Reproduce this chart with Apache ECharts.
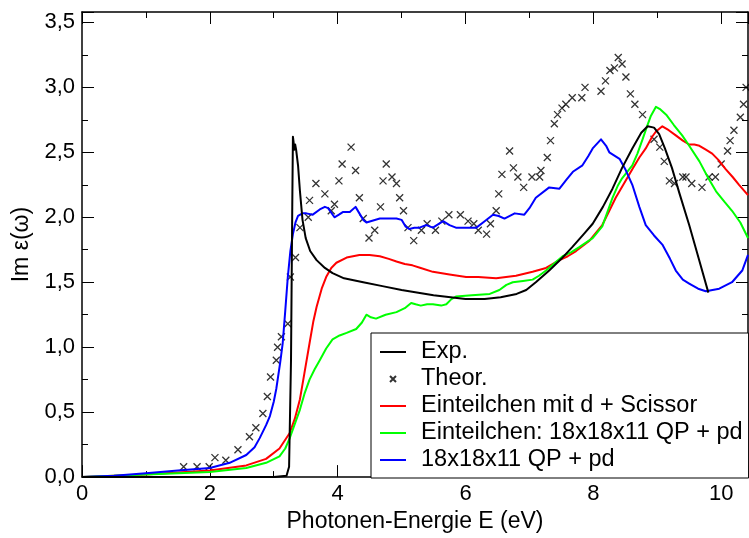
<!DOCTYPE html>
<html>
<head>
<meta charset="utf-8">
<script src="https://cdn.jsdelivr.net/npm/echarts@6/dist/echarts.min.js"></script>
<style>
html, body { margin: 0; padding: 0; background: #fff; }
#chart { width: 749px; height: 538px; }
</style>
</head>
<body>
<div id="chart"></div>
<script>
// Legendennamen
var seriesNames = ['Exp.', 'Theor.', 'Einteilchen mit d + Scissor', 'Einteilchen: 18x18x11 QP + pd', '18x18x11 QP + pd'];

// Exp. (schwarz)
var expData = [[0,0],[1,0],[2,0],[3,0],[3.2,0.01],[3.24,0.08],[3.27,0.9],[3.29,2.1],[3.30,2.62],[3.31,2.58],[3.32,2.52],
    [3.335,2.56],[3.35,2.52],[3.38,2.4],[3.41,2.2],[3.45,1.98],[3.50,1.84],[3.57,1.74],[3.67,1.67],[3.8,1.61],[3.92,1.57],
    [4.1,1.53],[4.4,1.5],[4.7,1.47],[5.0,1.44],[5.5,1.40],[6.0,1.37],[6.3,1.37],[6.55,1.385],[6.8,1.41],[6.95,1.44],
    [7.1,1.5],[7.31,1.59],[7.5,1.68],[7.67,1.77],[7.85,1.87],[7.99,1.95],[8.15,2.08],[8.3,2.22],[8.45,2.38],[8.61,2.53],
    [8.75,2.65],[8.85,2.70],[8.95,2.69],[9.03,2.64],[9.12,2.53],[9.23,2.38],[9.35,2.18],[9.5,1.94],[9.65,1.68],[9.80,1.42]];

// Theor. (Kreuze)
var theorData = [[1.59,0.08],[1.80,0.08],[1.99,0.08],[2.08,0.15],[2.25,0.13],[2.44,0.21],[2.62,0.31],[2.72,0.38],[2.83,0.49],
    [2.90,0.62],[2.95,0.77],[3.04,0.90],[3.06,1.00],[3.12,1.08],[3.22,1.18],[3.26,1.54],[3.34,1.69],[3.41,1.92],[3.54,2.00],
    [3.56,2.13],[3.66,2.26],[3.80,2.18],[3.90,2.05],[3.95,2.10],[4.02,2.28],[4.07,2.41],[4.21,2.54],[4.28,2.36],[4.34,2.15],
    [4.40,1.99],[4.49,1.84],[4.58,1.90],[4.67,2.08],[4.71,2.28],[4.76,2.41],[4.85,2.31],[4.92,2.26],[4.97,2.15],[5.03,2.05],
    [5.10,1.92],[5.19,1.82],[5.31,1.90],[5.40,1.95],[5.53,1.90],[5.63,1.97],[5.74,2.02],[5.92,2.02],[6.04,1.97],[6.13,1.95],
    [6.20,1.90],[6.33,1.87],[6.39,1.95],[6.48,2.05],[6.52,2.18],[6.57,2.33],[6.69,2.51],[6.75,2.38],[6.82,2.31],[6.91,2.23],
    [7.04,2.31],[7.16,2.31],[7.18,2.36],[7.28,2.46],[7.33,2.59],[7.39,2.72],[7.44,2.79],[7.51,2.84],[7.57,2.87],[7.67,2.92],
    [7.82,2.92],[7.87,3.00],[8.12,2.97],[8.19,3.05],[8.26,3.13],[8.33,3.15],[8.39,3.23],[8.45,3.18],[8.51,3.08],[8.58,2.95],
    [8.65,2.87],[8.77,2.79],[8.95,2.60],[9.04,2.54],[9.11,2.43],[9.19,2.28],[9.27,2.26],[9.40,2.31],[9.45,2.31],[9.54,2.26],
    [9.70,2.23],[9.81,2.31],[9.91,2.31],[10.0,2.41],[10.10,2.51],[10.14,2.59],[10.20,2.67],[10.30,2.77],[10.35,2.87],[10.39,3.00]];

// Einteilchen mit d + Scissor (rot)
var scissorData = [[0,0],[1.0,0.02],[2.0,0.05],[2.57,0.09],[2.88,0.14],[3.09,0.22],[3.25,0.34],[3.33,0.45],[3.41,0.60],
    [3.48,0.8],[3.56,1.03],[3.62,1.2],[3.67,1.31],[3.75,1.45],[3.82,1.54],[3.9,1.61],[3.98,1.65],[4.14,1.69],[4.34,1.71],
    [4.5,1.71],[4.66,1.70],[4.8,1.68],[4.92,1.66],[5.05,1.64],[5.17,1.63],[5.3,1.61],[5.49,1.58],[5.75,1.56],[6.01,1.54],
    [6.2,1.54],[6.48,1.53],[6.79,1.55],[7.05,1.58],[7.26,1.61],[7.47,1.67],[7.6,1.7],[7.73,1.74],[7.94,1.82],[8.14,1.94],
    [8.25,2.05],[8.35,2.15],[8.48,2.26],[8.61,2.37],[8.72,2.46],[8.82,2.53],[8.92,2.62],[8.98,2.66],[9.08,2.70],[9.18,2.67],
    [9.29,2.63],[9.40,2.59],[9.50,2.56],[9.58,2.56],[9.66,2.55],[9.76,2.52],[9.86,2.49],[9.96,2.44],[10.07,2.37],[10.18,2.31],
    [10.28,2.25],[10.42,2.17]];

// Einteilchen: 18x18x11 QP + pd (gruen)
var einQpData = [[0,0],[1.0,0.02],[2.0,0.04],[2.57,0.07],[2.88,0.11],[3.09,0.16],[3.18,0.22],[3.25,0.30],[3.33,0.41],
    [3.41,0.52],[3.48,0.64],[3.56,0.75],[3.64,0.83],[3.72,0.90],[3.82,0.99],[3.92,1.06],[4.03,1.09],[4.14,1.11],[4.29,1.14],
    [4.38,1.19],[4.45,1.25],[4.52,1.23],[4.60,1.22],[4.75,1.25],[4.92,1.27],[5.05,1.30],[5.15,1.34],[5.22,1.33],[5.30,1.32],
    [5.40,1.33],[5.49,1.33],[5.62,1.32],[5.70,1.33],[5.78,1.37],[5.85,1.39],[6.1,1.40],[6.38,1.41],[6.53,1.44],[6.64,1.48],
    [6.74,1.50],[6.9,1.51],[7.05,1.52],[7.15,1.55],[7.26,1.59],[7.4,1.65],[7.52,1.70],[7.65,1.73],[7.78,1.77],[7.99,1.84],
    [8.14,1.93],[8.22,2.04],[8.30,2.15],[8.38,2.24],[8.45,2.30],[8.53,2.35],[8.61,2.40],[8.69,2.49],[8.77,2.60],[8.84,2.70],
    [8.90,2.78],[8.98,2.85],[9.05,2.83],[9.14,2.79],[9.26,2.71],[9.39,2.63],[9.5,2.55],[9.66,2.43],[9.80,2.30],[9.92,2.20],
    [10.05,2.12],[10.17,2.05],[10.3,1.96],[10.42,1.84]];

// 18x18x11 QP + pd (blau)
var qpData = [[0,0.0],[0.5,0.01],[1.0,0.03],[1.5,0.05],[2.0,0.07],[2.31,0.11],[2.57,0.17],[2.7,0.23],[2.78,0.30],[2.88,0.40],
    [2.94,0.47],[3.0,0.58],[3.04,0.68],[3.1,0.88],[3.14,1.03],[3.18,1.28],[3.22,1.54],[3.26,1.74],[3.30,1.87],[3.34,1.96],
    [3.38,2.01],[3.45,2.03],[3.51,2.03],[3.61,2.02],[3.72,2.06],[3.80,2.08],[3.85,2.07],[3.95,2.00],[4.02,2.02],[4.08,2.04],
    [4.19,2.04],[4.28,2.08],[4.34,2.03],[4.40,1.98],[4.45,1.96],[4.66,1.99],[4.92,1.99],[5.0,1.98],[5.06,1.93],[5.12,1.91],
    [5.20,1.92],[5.28,1.92],[5.39,1.94],[5.49,1.92],[5.65,1.97],[5.75,1.94],[5.85,1.92],[6.17,1.92],[6.30,1.97],[6.43,2.02],
    [6.52,2.01],[6.61,1.99],[6.77,2.03],[6.92,2.02],[7.0,2.07],[7.10,2.15],[7.31,2.23],[7.47,2.22],[7.58,2.29],[7.68,2.35],
    [7.83,2.40],[7.92,2.47],[7.99,2.53],[8.12,2.60],[8.2,2.55],[8.25,2.50],[8.41,2.45],[8.5,2.37],[8.61,2.25],[8.72,2.08],
    [8.82,1.94],[8.95,1.86],[9.08,1.79],[9.2,1.68],[9.29,1.59],[9.40,1.52],[9.50,1.49],[9.64,1.45],[9.76,1.43],[9.97,1.45],
    [10.17,1.50],[10.33,1.59],[10.42,1.71]];

var chart = echarts.init(document.getElementById('chart'));

var FONT = 'Liberation Sans';
var crossPath = 'path://M0,0L10,10M10,0L0,10';

/* Achsen: unten/links mit Beschriftung, oben/rechts nur Striche */
function makeAxis(pos, isX) {
    var ax = {
        type: 'value',
        position: pos,
        min: 0,
        max: isX ? 10.42 : 3.58,
        interval: isX ? 2 : 0.5,
        axisLine: { show: true, onZero: false, lineStyle: { color: '#000', width: 1.5 } },
        axisTick: { show: true, inside: true, length: 12, lineStyle: { color: '#000', width: 1 } },
        minorTick: { show: true, splitNumber: 2, length: 6, lineStyle: { color: '#000', width: 1 } },
        splitLine: { show: false },
        axisLabel: { show: false }
    };
    return ax;
}

var xBottom = makeAxis('bottom', true);
xBottom.axisLabel = { show: true, color: '#000', fontFamily: FONT, fontSize: 22, margin: 6, showMaxLabel: false };
xBottom.name = 'Photonen-Energie E (eV)';
xBottom.nameLocation = 'middle';
xBottom.nameGap = 27;
xBottom.nameTextStyle = { color: '#000', fontFamily: FONT, fontSize: 23 };

var yLeft = makeAxis('left', false);
yLeft.axisLabel = {
    show: true, color: '#000', fontFamily: FONT, fontSize: 22, margin: 7, showMaxLabel: false,
    formatter: function(v) { return v.toFixed(1).replace('.', ','); }
};
yLeft.name = 'Im ε(ω)';
yLeft.nameLocation = 'middle';
yLeft.nameGap = 47;
yLeft.nameTextStyle = { color: '#000', fontFamily: FONT, fontSize: 23 };

var lineSeries = function(name, data, color, z) {
    return {
        name: name,
        type: 'line',
        data: data,
        symbol: 'none',
        showSymbol: false,
        z: z,
        lineStyle: { color: color, width: 2, join: 'round' },
        itemStyle: { color: color }
    };
};

// Legende: bei Linien nur den Strich zeigen
var hideDot = { opacity: 0 };

var option = {
    animation: false,
    backgroundColor: '#fff',
    grid: { left: 82, right: 1, top: 12, bottom: 56 },
    xAxis: [xBottom, makeAxis('top', true)],
    yAxis: [yLeft, makeAxis('right', false)],
    legend: {
        left: 371,
        top: 333,
        orient: 'vertical',
        backgroundColor: '#fff',
        borderColor: '#000',
        borderWidth: 1,
        borderRadius: 0,
        padding: [7, 6, 6, 8],
        itemWidth: 26,
        itemHeight: 14,
        itemGap: 3,
        textStyle: { color: '#000', fontFamily: FONT, fontSize: 23.5, padding: [0, 0, 0, 10] },
        data: [
            { name: seriesNames[0], itemStyle: hideDot },
            { name: seriesNames[1], icon: 'path://M0,0L0,0M26,14L26,14M10,4L16,10M16,4L10,10' },
            { name: seriesNames[2], itemStyle: hideDot },
            { name: seriesNames[3], itemStyle: hideDot },
            { name: seriesNames[4], itemStyle: hideDot }
        ]
    },
    series: [
        {
            name: seriesNames[1],
            type: 'scatter',
            data: theorData,
            symbol: crossPath,
            symbolSize: 7,
            z: 2,
            itemStyle: { color: 'rgba(0,0,0,0)', borderColor: '#000', borderWidth: 1.3 }
        },
        lineSeries(seriesNames[2], scissorData, '#ff0000', 3),
        lineSeries(seriesNames[3], einQpData, '#00ff00', 3),
        lineSeries(seriesNames[4], qpData, '#0000ff', 4),
        lineSeries(seriesNames[0], expData, '#000000', 5)
    ]
};

chart.setOption(option);
</script>
</body>
</html>
